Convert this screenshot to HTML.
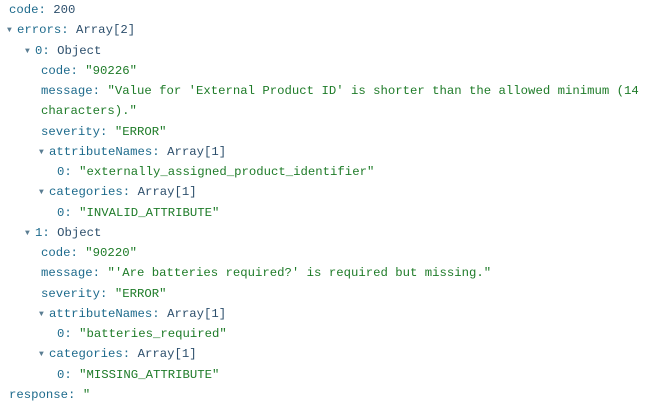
<!DOCTYPE html>
<html><head><style>
html,body{margin:0;padding:0;background:#fff;width:645px;height:413px;overflow:hidden}
.w{font-family:"Liberation Mono",monospace;font-size:12.3px;position:relative}
.l{position:absolute;height:20px;line-height:20px;white-space:pre}
.k{color:#1d6a8c}.v{color:#2d4f6c}.s{color:#1e7b28}
.t{color:#5a7d92;font-size:8px;display:inline-block;width:10px;vertical-align:1px}
</style></head><body><div class="w">
<div class="l" style="top:0;left:9px"><span class="k">code:</span> <span class="v">200</span></div>
<div class="l" style="top:20px;left:7px"><span class="t">▼</span><span class="k">errors:</span> <span class="v">Array[2]</span></div>
<div class="l" style="top:40.5px;left:25px"><span class="t">▼</span><span class="k">0:</span> <span class="v">Object</span></div>
<div class="l" style="top:61px;left:41px"><span class="k">code:</span> <span class="s">"90226"</span></div>
<div class="l" style="top:81px;left:41px"><span class="k">message:</span> <span class="s">"Value for 'External Product ID' is shorter than the allowed minimum (14</span></div>
<div class="l" style="top:101px;left:41px"><span class="s">characters)."</span></div>
<div class="l" style="top:121.5px;left:41px"><span class="k">severity:</span> <span class="s">"ERROR"</span></div>
<div class="l" style="top:142px;left:39px"><span class="t">▼</span><span class="k">attributeNames:</span> <span class="v">Array[1]</span></div>
<div class="l" style="top:162px;left:57px"><span class="k">0:</span> <span class="s">"externally_assigned_product_identifier"</span></div>
<div class="l" style="top:182px;left:39px"><span class="t">▼</span><span class="k">categories:</span> <span class="v">Array[1]</span></div>
<div class="l" style="top:202.5px;left:57px"><span class="k">0:</span> <span class="s">"INVALID_ATTRIBUTE"</span></div>
<div class="l" style="top:223px;left:25px"><span class="t">▼</span><span class="k">1:</span> <span class="v">Object</span></div>
<div class="l" style="top:243px;left:41px"><span class="k">code:</span> <span class="s">"90220"</span></div>
<div class="l" style="top:263px;left:41px"><span class="k">message:</span> <span class="s">"'Are batteries required?' is required but missing."</span></div>
<div class="l" style="top:283.5px;left:41px"><span class="k">severity:</span> <span class="s">"ERROR"</span></div>
<div class="l" style="top:304px;left:39px"><span class="t">▼</span><span class="k">attributeNames:</span> <span class="v">Array[1]</span></div>
<div class="l" style="top:324px;left:57px"><span class="k">0:</span> <span class="s">"batteries_required"</span></div>
<div class="l" style="top:344px;left:39px"><span class="t">▼</span><span class="k">categories:</span> <span class="v">Array[1]</span></div>
<div class="l" style="top:364.5px;left:57px"><span class="k">0:</span> <span class="s">"MISSING_ATTRIBUTE"</span></div>
<div class="l" style="top:385px;left:9px"><span class="k">response:</span> <span class="s">"</span></div>
</div></body></html>
